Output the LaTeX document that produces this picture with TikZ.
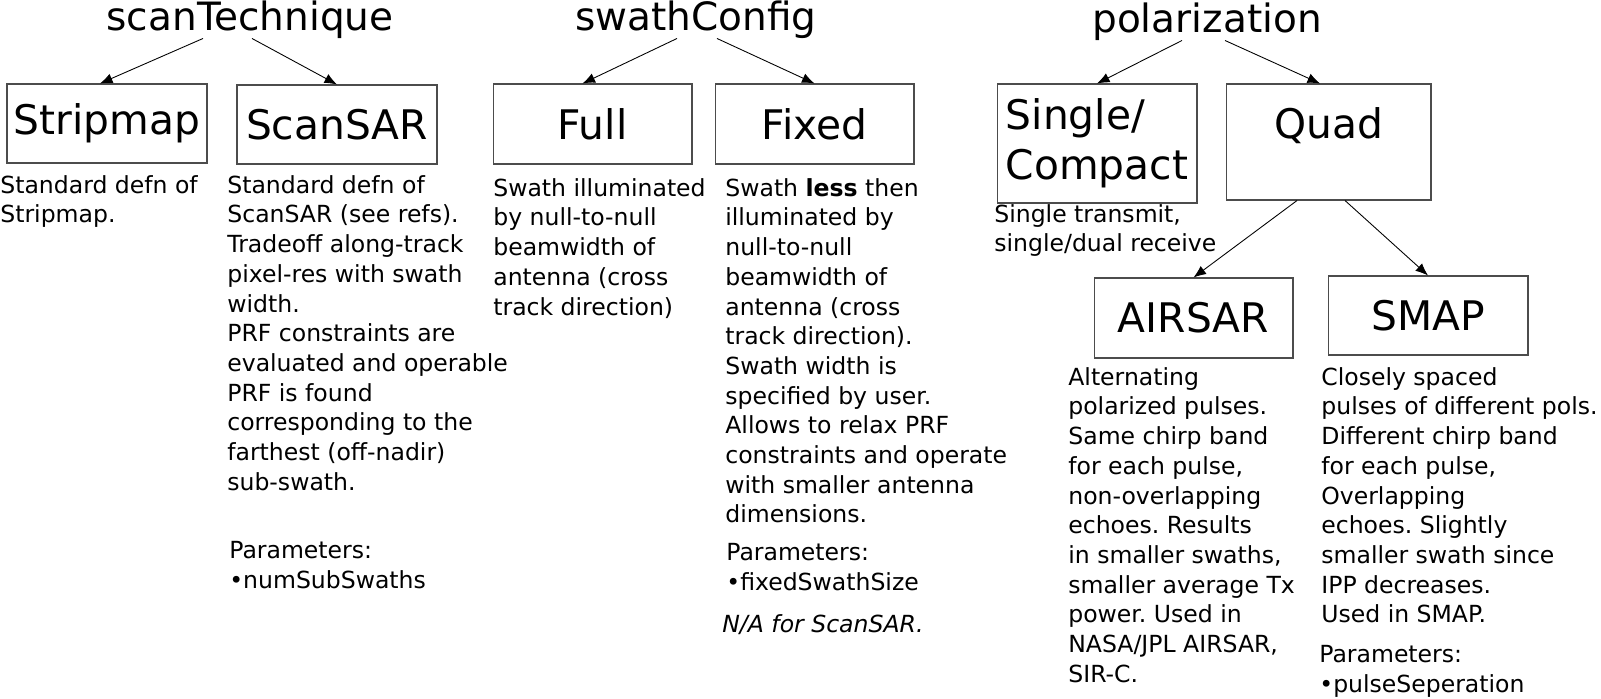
\documentclass[tikz,border=0pt]{standalone}
\usepackage{fontspec}
\setmainfont{DejaVu Sans}
\usetikzlibrary{arrows.meta}
\frenchspacing
\begin{document}
\begin{tikzpicture}[x=0.02cm, y=-0.02cm, >={Latex[length=2.5mm,width=2mm]},
  title/.style={anchor=base, inner sep=0pt, font=\fontsize{22.2}{26}\selectfont},
  box/.style={draw=black!70, line width=0.6pt, inner sep=0pt, font=\fontsize{23.2}{28.3}\selectfont},
  desc/.style={anchor=north west, align=left, inner sep=0pt, font=\fontsize{13.4}{16.9}\selectfont},
  link/.style={->, line width=0.5pt}]
\useasboundingbox (0,0) rectangle (1601,698);
%\draw[help lines, step=1cm] (0,0) grid +(1601,698);
%%%%%%%%%%%%%%%%%%%%%%%%%%%%%%% scanTechnique
\node[title](scan) at (250,30){scanTechnique};
\node[box, minimum width=4cm, minimum height=1.58cm](strip) at (107,123.5){Stripmap};
\node[box, minimum width=4cm, minimum height=1.58cm](scansar) at (337,124.5){ScanSAR};
\draw[link] ([xshift=-0.94cm]scan.south) -- ([xshift=-0.14cm]strip.north);
\draw[link] ([xshift=0.04cm]scan.south) -- (scansar.north);
\node[desc](stripdesc) at (0,175){Standard defn of\\Stripmap.};
\node[desc](scandesc) at (227,175){Standard defn of\\ScanSAR (see refs).\\Tradeoff along-track\\pixel-res with swath\\width.\\PRF constraints are\\evaluated and operable\\PRF is found\\corresponding to the\\farthest (off-nadir)\\sub-swath.};
\node[desc](scanpar) at (229,541){Parameters:\\•numSubSwaths};
%%%%%%%%%%%%%%%%%%%%%%%%%%%%%%% swathConfig
\node[title](swath) at (696,30){swathConfig};
\node[box, minimum width=3.98cm, minimum height=1.6cm](full) at (592.5,124){Full};
\node[box, minimum width=3.98cm, minimum height=1.6cm](fixed) at (814.5,124){Fixed};
\draw[link] ([xshift=-0.38cm]swath.south) -- ([xshift=-0.2cm]full.north);
\draw[link] ([xshift=0.42cm]swath.south) -- (fixed.north);
\node[desc](fulldesc) at (493,178){Swath illuminated\\by null-to-null\\beamwidth of\\antenna (cross\\track direction)};
\node[desc](fixeddesc) at (725,178){Swath \textbf{less} then\\illuminated by\\null-to-null\\beamwidth of\\antenna (cross\\track direction).\\Swath width is\\specified by user.\\Allows to relax PRF\\constraints and operate\\with smaller antenna\\dimensions.};
\node[desc](fixedpar) at (726,543){Parameters:\\•fixedSwathSize};
\node[desc](fixednote) at (722,614){\itshape N/A for ScanSAR.};
%%%%%%%%%%%%%%%%%%%%%%%%%%%%%%% polarization
\node[title](pol) at (1207,32){polarization};
\node[box, align=left, minimum width=4cm, minimum height=2.38cm](single) at (1097,143.5){Single/\\Compact};
\node[box, minimum width=4.1cm, minimum height=2.32cm, text depth=0.74cm](quad) at (1328.5,142){Quad};
\node[box, minimum width=3.98cm, minimum height=1.6cm](airsar) at (1193.5,318){AIRSAR};
\node[box, minimum width=4cm, minimum height=1.58cm](smap) at (1428,315.5){SMAP};
\draw[link] ([xshift=-0.5cm]pol.south) -- (single.north);
\draw[link] ([xshift=0.36cm]pol.south) -- ([xshift=-0.17cm]quad.north);
\draw[link] ([xshift=-0.63cm]quad.south) -- (airsar.north);
\draw[link] ([xshift=0.33cm]quad.south) -- (smap.north);
\node[desc](singledesc) at (994,204){Single transmit,\\single/dual receive};
\node[desc](airdesc) at (1068,367){Alternating\\polarized pulses.\\Same chirp band\\for each pulse,\\non-overlapping\\echoes. Results\\in smaller swaths,\\smaller average Tx\\power. Used in\\NASA/JPL AIRSAR,\\SIR-C.};
\node[desc](smapdesc) at (1321,367){Closely spaced\\pulses of different pols.\\Different chirp band\\for each pulse,\\Overlapping\\echoes. Slightly\\smaller swath since\\IPP decreases.\\Used in SMAP.};
\node[desc](smappar) at (1319,645){Parameters:\\•pulseSeperation};
\end{tikzpicture}
\end{document}
